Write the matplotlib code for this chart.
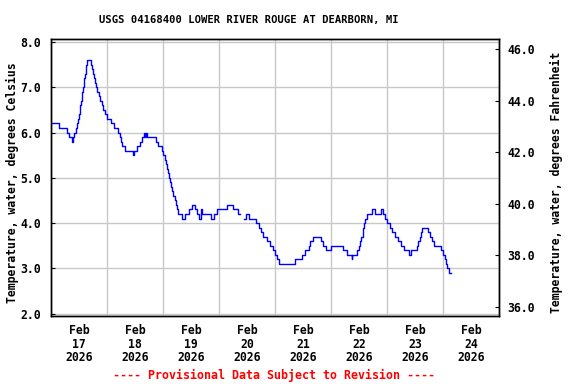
import numpy as np
import matplotlib
matplotlib.use("Agg")
import matplotlib.pyplot as plt
import matplotlib.dates as mdates
from matplotlib.ticker import FixedLocator, FormatStrFormatter
from datetime import datetime, timedelta

# readings: hours after 2026-02-17 00:00 where each new value starts (nan = gap)
start = datetime(2026, 2, 17)
hours = [0.0, 3.56, 6.73, 7.71, 8.79, 9.43, 10.07, 10.71, 11.14, 11.57,
         12.0, 12.3, 12.56, 12.86, 13.16, 13.41, 13.71, 14.01, 14.27, 14.57,
         14.87, 15.13, 15.56, 17.14, 17.57, 18.0, 18.43, 18.99, 19.41, 19.84,
         20.44, 21.0, 21.73, 22.41, 23.14, 24.21, 25.71, 27.21, 28.5, 29.36,
         30.0, 30.64, 31.5, 35.01, 35.57, 36.86, 37.93, 38.79, 39.86, 40.16,
         40.84, 41.14, 44.79, 45.86, 47.36, 48.21, 48.77, 49.29, 49.84, 50.27,
         50.7, 51.13, 51.56, 51.99, 52.41, 52.93, 53.36, 53.91, 54.64, 55.93,
         57.43, 58.93, 60.43, 61.5, 62.57, 63.64, 64.29, 64.71, 68.44, 70.07,
         71.14, 75.3, 78.13, 80.14, 81.0, 82.71, 83.44, 84.86, 88.07, 89.14,
         90.0, 91.07, 92.57, 93.86, 94.93, 96.0, 96.86, 97.71, 104.57, 107.44,
         109.07, 110.57, 111.21, 112.16, 115.71, 116.57, 117.73, 120.0, 125.27, 126.86,
         128.79, 129.21, 131.14, 131.79, 132.43, 133.07, 133.5, 133.84, 134.14, 134.57,
         135.43, 137.44, 138.86, 141.3, 142.29, 142.93, 144.0, 145.29, 146.14, 147.43,
         148.71, 150.0, 151.29, 153.64, 154.29, 156.73, 157.29, 157.93, 158.36, 158.87,
         161.36, 162.43, 163.29, 164.14, 167.14, 168.0, 168.86, 169.29, 169.71, 170.7,
         171.43]
temps_c = [6.2, 6.1, 6.0, 5.9, 5.8, 5.9, 6.0, 6.1, 6.2, 6.3,
           6.4, 6.5, 6.6, 6.7, 6.8, 6.9, 7.0, 7.1, 7.2, 7.3,
           7.4, 7.5, 7.6, 7.5, 7.4, 7.3, 7.2, 7.1, 7.0, 6.9,
           6.8, 6.7, 6.6, 6.5, 6.4, 6.3, 6.2, 6.1, 6.0, 5.9,
           5.8, 5.7, 5.6, 5.5, 5.6, 5.7, 5.8, 5.9, 6.0, 5.9,
           6.0, 5.9, 5.8, 5.7, 5.6, 5.5, 5.4, 5.3, 5.2, 5.1,
           5.0, 4.9, 4.8, 4.7, 4.6, 4.5, 4.4, 4.3, 4.2, 4.1,
           4.2, 4.3, 4.4, 4.3, 4.2, 4.1, 4.3, 4.2, 4.1, 4.2,
           4.3, 4.4, 4.3, 4.2, np.nan, 4.1, 4.2, 4.1, 4.0, 3.9,
           3.8, 3.7, 3.6, 3.5, 3.4, 3.3, 3.2, 3.1, 3.2, 3.3,
           3.4, 3.5, 3.6, 3.7, 3.6, 3.5, 3.4, 3.5, 3.4, 3.3,
           3.2, 3.3, 3.4, 3.5, 3.6, 3.7, 3.8, 3.9, 4.0, 4.1,
           4.2, 4.3, 4.2, 4.3, 4.2, 4.1, 4.0, 3.9, 3.8, 3.7,
           3.6, 3.5, 3.4, 3.3, 3.4, 3.5, 3.6, 3.7, 3.8, 3.9,
           3.8, 3.7, 3.6, 3.5, 3.4, 3.3, 3.2, 3.1, 3.0, 2.9,
           2.9]

celsius_ticks = [2.0, 3.0, 4.0, 5.0, 6.0, 7.0, 8.0]
fahrenheit_ticks = [36.0, 38.0, 40.0, 42.0, 44.0, 46.0]

title = "USGS 04168400 LOWER RIVER ROUGE AT DEARBORN, MI"
left_label = "Temperature, water, degrees Celsius"
right_label = "Temperature, water, degrees Fahrenheit"
footer = "---- Provisional Data Subject to Revision ----"

times = [start + timedelta(hours=h) for h in hours]

mono = "DejaVu Sans Mono"
fs = 8.3

fig = plt.figure(figsize=(5.76, 3.84), dpi=100)
ax = fig.add_axes([51 / 576, 1 - 316 / 384, 448 / 576, 277 / 384])
ax.plot(times, temps_c, drawstyle="steps-post", color="#0000ff", lw=1.0, zorder=3)

ax.set_xlim(start, start + timedelta(days=8))
ax.set_ylim(1.946, 8.067)
ax.yaxis.set_major_locator(FixedLocator(celsius_ticks))
ax.yaxis.set_major_formatter(FormatStrFormatter("%.1f"))

ax.xaxis.set_major_locator(mdates.HourLocator(byhour=[12]))
ax.xaxis.set_major_formatter(mdates.DateFormatter("%b\n%d\n%Y"))
ax.xaxis.set_minor_locator(mdates.DayLocator())
ax.grid(True, which="minor", axis="x", color="#c8c8c8", lw=1.0)
ax.grid(True, which="major", axis="y", color="#c8c8c8", lw=1.0)
ax.tick_params(axis="x", which="both", length=0, pad=6)
ax.tick_params(axis="y", direction="in", length=3, pad=7)
for lab in ax.get_xticklabels():
    lab.set_fontfamily(mono)
    lab.set_fontweight("bold")
    lab.set_fontsize(fs)
    lab.set_linespacing(1.05)
for lab in ax.get_yticklabels():
    lab.set_fontfamily(mono)
    lab.set_fontweight("bold")
    lab.set_fontsize(fs)
for sp in ax.spines.values():
    sp.set_linewidth(1.0)

ax2 = ax.twinx()
ax2.set_ylim(35.64, 46.40)
ax2.yaxis.set_major_locator(FixedLocator(fahrenheit_ticks))
ax2.yaxis.set_major_formatter(FormatStrFormatter("%.1f"))
ax2.tick_params(axis="y", direction="in", length=3, pad=6)
for lab in ax2.get_yticklabels():
    lab.set_fontfamily(mono)
    lab.set_fontweight("bold")
    lab.set_fontsize(fs)
for sp in ax2.spines.values():
    sp.set_linewidth(1.0)

fig.text(249 / 576, 1 - 20 / 384, title, ha="center", va="center",
         family=mono, weight="bold", fontsize=7.6)
fig.text(12 / 576, 1 - 183 / 384, left_label, rotation=90, ha="center", va="center",
         family=mono, weight="bold", fontsize=fs)
fig.text(556 / 576, 1 - 182 / 384, right_label, rotation=90, ha="center", va="center",
         family=mono, weight="bold", fontsize=fs)
fig.text(274 / 576, 1 - 375 / 384, footer, ha="center", va="center",
         family=mono, weight="bold", fontsize=8.4, color="#ff0000")

fig.savefig("out.png", dpi=100)
